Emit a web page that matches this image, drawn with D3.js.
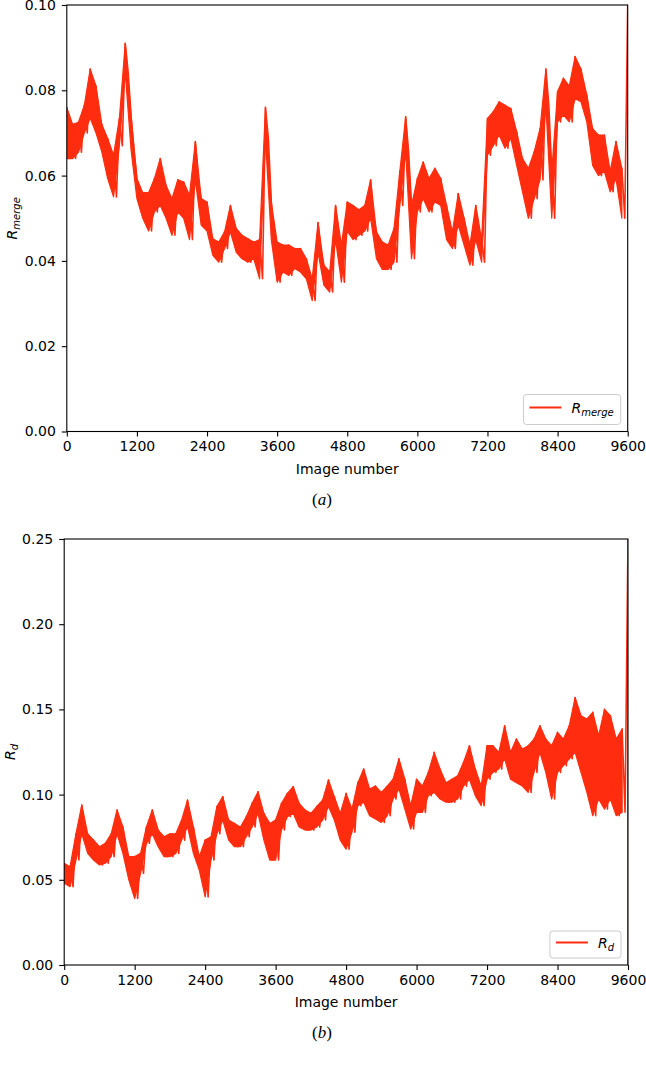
<!DOCTYPE html>
<html>
<head>
<meta charset="utf-8">
<script src="https://cdn.jsdelivr.net/npm/d3@7"></script>
<style>
  body { margin: 0; background: #fff; }
  svg text { font-family: "DejaVu Sans", sans-serif; fill: #000; }
</style>
</head>
<body>
<svg id="chart" width="646" height="1067"></svg>
<script>
// image number sampled every 100 frames; each sample has a local max (high)
// and a local min (low) read off the noisy trace
const imageNumbers = d3.range(0, 9601, 100);
const xTicks = [0, 1200, 2400, 3600, 4800, 6000, 7200, 8400, 9600];

const rmergeHigh = [
  0.076, 0.072, 0.0725, 0.0765, 0.085, 0.081, 0.072, 0.0687, 0.0648, 0.0734,
  0.091, 0.074, 0.0593, 0.056, 0.056, 0.0593, 0.064, 0.0577, 0.0546, 0.059,
  0.0585, 0.0554, 0.068, 0.0546, 0.0538, 0.0452, 0.0444, 0.0468, 0.053, 0.0476,
  0.046, 0.0452, 0.0444, 0.045, 0.076, 0.0538, 0.0444, 0.0437, 0.0437, 0.0429,
  0.0429, 0.0405, 0.0358, 0.049, 0.039, 0.0374, 0.053, 0.0437, 0.0538, 0.053,
  0.052, 0.053, 0.059, 0.0468, 0.0444, 0.0437, 0.0476, 0.061, 0.0738, 0.053,
  0.0593, 0.0632, 0.0593, 0.0617, 0.0593, 0.053, 0.0468, 0.0558, 0.050, 0.0437,
  0.053, 0.045, 0.0734, 0.075, 0.0773, 0.0765, 0.0757, 0.0703, 0.064, 0.0617,
  0.0656, 0.071, 0.085, 0.061, 0.0797, 0.0828, 0.081, 0.0879, 0.085, 0.0789,
  0.071, 0.0695, 0.0695, 0.061, 0.068, 0.0617, 0.100
];
const rmergeLow = [
  0.064, 0.064, 0.0655, 0.070, 0.0735, 0.070, 0.0655, 0.0593, 0.055, 0.067,
  0.0843, 0.066, 0.0546, 0.050, 0.047, 0.0515, 0.053, 0.050, 0.046, 0.0515,
  0.050, 0.045, 0.059, 0.0484, 0.047, 0.0413, 0.0397, 0.0429, 0.0468, 0.042,
  0.0405, 0.0397, 0.0405, 0.0358, 0.0687, 0.045, 0.035, 0.0374, 0.0366, 0.0382,
  0.0374, 0.0358, 0.0307, 0.042, 0.0343, 0.0327, 0.045, 0.035, 0.047, 0.045,
  0.046, 0.047, 0.050, 0.0405, 0.038, 0.038, 0.0397, 0.053, 0.0656, 0.0405,
  0.0515, 0.0546, 0.0515, 0.0538, 0.053, 0.045, 0.0429, 0.0484, 0.0437, 0.039,
  0.045, 0.0397, 0.0648, 0.067, 0.0695, 0.0664, 0.0687, 0.0624, 0.0562, 0.050,
  0.0546, 0.059, 0.0765, 0.050, 0.0726, 0.0742, 0.0726, 0.078, 0.0773, 0.0726,
  0.0624, 0.060, 0.061, 0.0562, 0.0593, 0.050, 0.085
];

const rdHigh = [
  0.0597, 0.0577, 0.077, 0.0939, 0.077, 0.0733, 0.0694, 0.0714, 0.077, 0.091,
  0.081, 0.0636, 0.0636, 0.0655, 0.081, 0.091, 0.0792, 0.0753, 0.077, 0.077,
  0.0851, 0.0968, 0.081, 0.0636, 0.0733, 0.0753, 0.093, 0.0988, 0.0851, 0.0831,
  0.081, 0.087, 0.0949, 0.1017, 0.089, 0.0831, 0.0851, 0.0949, 0.1007, 0.1047,
  0.0949, 0.091, 0.089, 0.093, 0.0968, 0.1086, 0.0988, 0.089, 0.1007, 0.0915,
  0.107, 0.115, 0.1033, 0.105, 0.1013, 0.105, 0.109, 0.121, 0.109, 0.0935,
  0.109, 0.105, 0.113, 0.1248, 0.115, 0.107, 0.109, 0.111, 0.119, 0.1287,
  0.115, 0.105, 0.1287, 0.1287, 0.1248, 0.1404, 0.1248, 0.1326, 0.1268, 0.1287,
  0.1326, 0.1404, 0.1326, 0.1287, 0.1365, 0.1326, 0.1404, 0.157, 0.1463, 0.1444,
  0.1483, 0.1346, 0.150, 0.1463, 0.1326, 0.1385, 0.25
];
const rdLow = [
  0.048, 0.046, 0.0616, 0.077, 0.0655, 0.0616, 0.0587, 0.0597, 0.0636, 0.077,
  0.0655, 0.050, 0.039, 0.0538, 0.0714, 0.077, 0.0694, 0.0636, 0.0636, 0.0655,
  0.0733, 0.0812, 0.0655, 0.0557, 0.040, 0.0616, 0.077, 0.085, 0.0733, 0.0694,
  0.0694, 0.0753, 0.081, 0.089, 0.0733, 0.0616, 0.0616, 0.0792, 0.087, 0.089,
  0.081, 0.0792, 0.0792, 0.081, 0.0851, 0.093, 0.0851, 0.0733, 0.068, 0.0779,
  0.0935, 0.0955, 0.0876, 0.0857, 0.0837, 0.0876, 0.0974, 0.1033, 0.0915, 0.0798,
  0.0896, 0.0896, 0.0994, 0.1013, 0.0974, 0.0955, 0.0955, 0.0974, 0.105, 0.109,
  0.0994, 0.0935, 0.109, 0.113, 0.115, 0.121, 0.109, 0.107, 0.105, 0.1013,
  0.113, 0.1248, 0.113, 0.0974, 0.113, 0.117, 0.121, 0.1248, 0.113, 0.1013,
  0.0876, 0.0974, 0.0915, 0.0974, 0.0876, 0.0896, 0.0
];

const rmergeTicks = [0, 0.02, 0.04, 0.06, 0.08, 0.10];
const rdTicks = [0, 0.05, 0.10, 0.15, 0.20, 0.25];

const lineColor = "#ff2d0f";
const svg = d3.select("#chart");

function drawPanel(cfg) {
  const x = d3.scaleLinear().domain([0, 9600]).range([cfg.left, cfg.right]).clamp(true);
  const y = d3.scaleLinear().domain([0, cfg.yTicks[cfg.yTicks.length - 1]]).range([cfg.bottom, cfg.top]);

  const g = svg.append("g");

  g.append("clipPath").attr("id", cfg.id + "-clip")
    .append("rect")
    .attr("x", cfg.left).attr("y", cfg.top)
    .attr("width", cfg.right - cfg.left).attr("height", cfg.bottom - cfg.top);

  const plot = g.append("g").attr("clip-path", `url(#${cfg.id}-clip)`);

  // the noisy trace is so dense it reads as a band between local min and max
  const band = imageNumbers.map((n, i) => ({ n, lo: cfg.low[i], hi: cfg.high[i] }));
  plot.append("path")
    .datum(band.slice(0, -1))
    .attr("fill", lineColor)
    .attr("stroke", lineColor)
    .attr("stroke-width", 1.2)
    .attr("stroke-linejoin", "round")
    .attr("d", d3.area().x(d => x(d.n)).y0(d => y(d.lo)).y1(d => y(d.hi)));

  // jagged edge: alternate between local max and local min of each sample
  const pts = imageNumbers.flatMap((n, i) => [[n, cfg.high[i]], [n + 50, cfg.low[i]]]);
  plot.append("path")
    .datum(pts)
    .attr("fill", "none")
    .attr("stroke", lineColor)
    .attr("stroke-width", 1.6)
    .attr("stroke-linejoin", "round")
    .attr("d", d3.line().x(d => x(d[0])).y(d => y(d[1])));

  // axes
  const xAxis = g.append("g")
    .attr("transform", `translate(0,${cfg.bottom})`)
    .call(d3.axisBottom(x).tickValues(xTicks).tickSize(5).tickPadding(5).tickFormat(d3.format("d")));
  const yAxis = g.append("g")
    .attr("transform", `translate(${cfg.left},0)`)
    .call(d3.axisLeft(y).tickValues(cfg.yTicks).tickSize(5).tickPadding(6).tickFormat(d3.format(".2f")));
  [xAxis, yAxis].forEach(a => {
    a.select(".domain").remove();
    a.selectAll(".tick line").attr("stroke", "#000").attr("stroke-width", 1.1);
    a.selectAll(".tick text").style("font-size", "14px").style("font-family", "DejaVu Sans, sans-serif");
  });

  // frame
  g.append("rect")
    .attr("x", cfg.left).attr("y", cfg.top)
    .attr("width", cfg.right - cfg.left).attr("height", cfg.bottom - cfg.top)
    .attr("fill", "none").attr("stroke", "#000").attr("stroke-width", 1.1);

  // y label
  const yl = g.append("text")
    .attr("transform", `translate(${cfg.ylabelX},${(cfg.top + cfg.bottom) / 2}) rotate(-90)`)
    .attr("text-anchor", "middle")
    .style("font-size", "14px");
  yl.append("tspan").style("font-style", "italic").text("R");
  yl.append("tspan").style("font-style", "italic").style("font-size", "10px").attr("dy", 3).text(cfg.sub);

  // x label
  g.append("text")
    .attr("x", (cfg.left + cfg.right) / 2)
    .attr("y", cfg.bottom + 42)
    .attr("text-anchor", "middle")
    .style("font-size", "14px")
    .text("Image number");

  // caption
  const cap = g.append("text")
    .attr("x", 322)
    .attr("y", cfg.bottom + 73)
    .attr("text-anchor", "middle")
    .style("font-family", "Liberation Serif, serif")
    .style("font-size", "17px");
  cap.append("tspan").text("(");
  cap.append("tspan").style("font-style", "italic").text(cfg.caption);
  cap.append("tspan").text(")");

  // legend
  const leg = g.append("g");
  const box = leg.append("rect");
  const lt = leg.append("text").style("font-size", "14px");
  lt.append("tspan").style("font-style", "italic").text("R");
  lt.append("tspan").style("font-style", "italic").style("font-size", "10px").attr("dy", 3).text(cfg.sub);
  const tw = lt.node().getComputedTextLength();
  const bw = 48 + tw + 7;
  const bx = cfg.right - 7 - bw;
  const by = cfg.bottom - 7 - cfg.legendH;
  const cy = by + cfg.legendH / 2;
  box.attr("x", bx).attr("y", by).attr("width", bw).attr("height", cfg.legendH)
    .attr("rx", 3).attr("fill", "#fff").attr("fill-opacity", 0.8)
    .attr("stroke", "#cccccc").attr("stroke-width", 1);
  leg.append("line")
    .attr("x1", bx + 6).attr("x2", bx + 38)
    .attr("y1", cy - 2).attr("y2", cy - 2)
    .attr("stroke", lineColor).attr("stroke-width", 2);
  lt.attr("x", bx + 48).attr("y", cy + 3);
}

drawPanel({
  id: "a", left: 66.8, right: 627.7, top: 5, bottom: 431.5,
  yTicks: rmergeTicks, high: rmergeHigh, low: rmergeLow,
  sub: "merge", caption: "a", ylabelX: 17, legendH: 30
});

drawPanel({
  id: "b", left: 64.2, right: 628, top: 539, bottom: 965,
  yTicks: rdTicks, high: rdHigh, low: rdLow,
  sub: "d", caption: "b", ylabelX: 15, legendH: 27
});
</script>
</body>
</html>
